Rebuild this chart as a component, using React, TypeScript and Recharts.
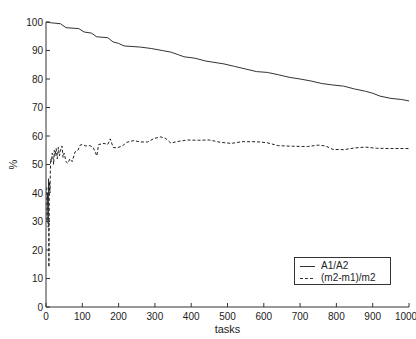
import { LineChart, Line, XAxis, YAxis, Legend } from 'recharts';

// A1/A2 ratio (solid)
const ratioTasks = [0, 15, 40, 55, 90, 105, 125, 140, 170, 185, 200, 215, 260, 290, 320, 345, 365, 380, 410, 440, 460, 490, 520, 550, 580, 610, 640, 670, 700, 730, 760, 790, 820, 850, 880, 900, 920, 950, 980, 1000];
const ratioValues = [100, 99.7, 99.4, 98.0, 97.7, 96.5, 96.1, 94.8, 94.5, 93.0, 92.5, 91.6, 91.2, 90.7, 90.0, 89.4, 88.5, 87.8, 87.3, 86.3, 85.9, 85.3, 84.4, 83.5, 82.6, 82.3, 81.5, 80.6, 80.0, 79.3, 78.4, 77.9, 77.5, 76.5, 75.7, 75.0, 74.0, 73.2, 72.8, 72.3];

// (m2-m1)/m2 (dashed) — noisy at the start, then settles around 55-59
const diffTasks = [2, 3, 4, 5, 6, 7, 8, 9, 10, 11, 12, 13, 15, 17, 19, 21, 23, 25, 28, 31, 34, 37, 40, 44, 47, 50, 55, 60, 66, 72, 80, 88, 94, 100, 110, 121, 130, 140, 145, 160, 170, 177, 185, 195, 210, 223, 242, 260, 280, 297, 316, 330, 344, 360, 390, 420, 450, 480, 510, 540, 580, 610, 640, 680, 720, 750, 770, 790, 820, 850, 880, 910, 950, 1000];
const diffValues = [42, 30, 40, 35, 28, 45, 14, 38, 44, 40, 48, 52, 51, 54, 53, 50, 55, 53, 55.6, 52, 56, 53, 55, 56.5, 52.5, 54, 51, 50.4, 52, 51, 54.4, 55, 56.8, 57, 56.5, 56.6, 56, 53, 57, 57.4, 57, 59, 56, 55.8, 56.5, 57.8, 58.4, 57.9, 57.9, 59.1, 59.7, 59.1, 57.5, 58, 58.6, 58.5, 58.6, 57.8, 57.4, 58, 58, 57.6, 56.6, 56.4, 56.3, 56.8, 56.5, 55.3, 55.2, 55.8, 56.1, 55.7, 55.6, 55.6];

const xTicks = [0, 100, 200, 300, 400, 500, 600, 700, 800, 900, 1000];
const yTicks = [0, 10, 20, 30, 40, 50, 60, 70, 80, 90, 100];

const ratioData = ratioTasks.map((t, i) => ({ task: t, value: ratioValues[i] }));
const diffData = diffTasks.map((t, i) => ({ task: t, value: diffValues[i] }));

const AXIS = '#333';
const FONT = 'Liberation Sans, Arial, Helvetica, sans-serif';

function LegendBox() {
  const row = (dash: string | undefined, label: string) => (
    <div style={{ display: 'flex', alignItems: 'center', height: 12 }}>
      <svg width={26} height={12} style={{ display: 'block' }}>
        <line x1={5} x2={20} y1={6.5} y2={6.5} stroke="#333" strokeWidth={1} strokeDasharray={dash} />
      </svg>
      <span style={{ fontSize: 10, color: '#222', lineHeight: '12px' }}>{label}</span>
    </div>
  );
  return (
    <div style={{ border: '1px solid #333', background: '#fff', width: 97, height: 28, padding: '2px 0 0 0', boxSizing: 'border-box', fontFamily: FONT }}>
      {row(undefined, 'A1/A2')}
      {row('3 2', '(m2-m1)/m2')}
    </div>
  );
}

export default function App() {
  return (
    <div style={{ position: 'absolute', left: 0, top: 0, background: '#fff' }}>
      <LineChart width={416} height={339} margin={{ top: 22, right: 7, left: 0, bottom: 0 }} style={{ fontFamily: FONT }}>
        <XAxis
          xAxisId="bottom"
          dataKey="task"
          type="number"
          domain={[0, 1000]}
          ticks={xTicks}
          allowDataOverflow
          height={32}
          stroke={AXIS}
          tickSize={-4}
          tickMargin={10}
          tick={{ fontSize: 10, fill: '#222' }}
          label={{ value: 'tasks', position: 'insideBottom', offset: 6, fontSize: 11, fill: '#222' }}
        />
        <XAxis
          xAxisId="top"
          orientation="top"
          dataKey="task"
          type="number"
          domain={[0, 1000]}
          ticks={xTicks}
          height={0}
          stroke={AXIS}
          tickSize={-4}
          tickFormatter={() => ''}
          label={{ value: '3 computing nodes', position: 'top', offset: 8, fontSize: 11, fill: '#222' }}
        />
        <YAxis
          yAxisId="left"
          type="number"
          domain={[0, 100]}
          ticks={yTicks}
          width={46}
          stroke={AXIS}
          tickSize={-4}
          tickMargin={7}
          tick={{ fontSize: 10, fill: '#222' }}
          label={{ value: '%', angle: -90, position: 'insideLeft', offset: 13, fontSize: 11, fill: '#222', style: { textAnchor: 'middle' } }}
        />
        <YAxis
          yAxisId="right"
          orientation="right"
          type="number"
          domain={[0, 100]}
          ticks={yTicks}
          width={0}
          stroke={AXIS}
          tickSize={-4}
          tickFormatter={() => ''}
        />
        <Legend
          layout="vertical"
          align="center"
          verticalAlign="middle"
          content={() => <LegendBox />}
          wrapperStyle={{ position: 'absolute', left: 294, top: 257, width: 99, height: 30 }}
        />
        <Line
          xAxisId="bottom"
          yAxisId="left"
          data={ratioData}
          dataKey="value"
          name="A1/A2"
          type="linear"
          stroke="#333"
          strokeWidth={1}
          dot={false}
          isAnimationActive={false}
        />
        <Line
          xAxisId="bottom"
          yAxisId="left"
          data={diffData}
          dataKey="value"
          name="(m2-m1)/m2"
          type="linear"
          stroke="#222"
          strokeWidth={1}
          strokeDasharray="3 2"
          dot={false}
          isAnimationActive={false}
        />
      </LineChart>
    </div>
  );
}
